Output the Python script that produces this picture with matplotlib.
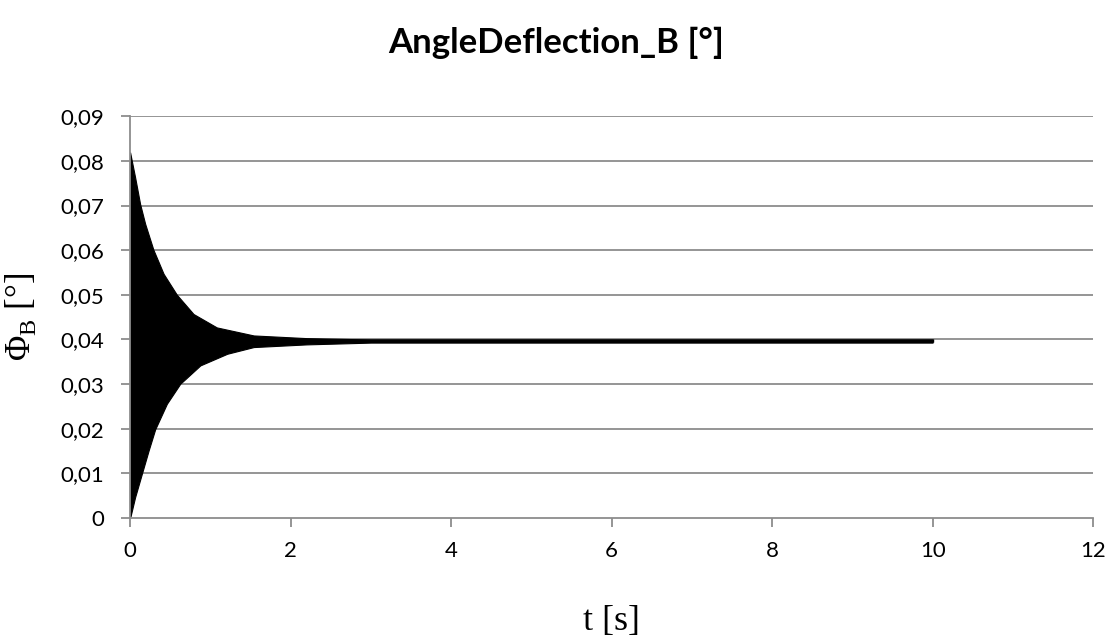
import matplotlib.pyplot as plt
import numpy as np

# envelope of the oscillation
t_up = [0.0, 0.0625, 0.125, 0.1875, 0.29, 0.417, 0.583, 0.79, 1.08, 1.54, 2.2, 3.0, 10.0]
upper = [0.0819, 0.0763, 0.0703, 0.0659, 0.0601, 0.0547, 0.0500, 0.0457, 0.0427, 0.0409, 0.0403, 0.0400, 0.0400]
t_lo = [0.0, 0.0625, 0.146, 0.23, 0.3125, 0.458, 0.625, 0.875, 1.21, 1.54, 2.2, 3.0, 10.0]
lower = [0.0, 0.0047, 0.0099, 0.0151, 0.0199, 0.0256, 0.0301, 0.0342, 0.0368, 0.0383, 0.0389, 0.0393, 0.0393]

xticks = [0, 2, 4, 6, 8, 10, 12]
yticks = [0, 0.01, 0.02, 0.03, 0.04, 0.05, 0.06, 0.07, 0.08, 0.09]
ytick_labels = ['0', '0,01', '0,02', '0,03', '0,04', '0,05', '0,06', '0,07', '0,08', '0,09']

plt.rcParams['font.family'] = ['Lato', 'DejaVu Sans']

fig = plt.figure(figsize=(11.12, 6.42), dpi=100)
ax = fig.add_axes([0.117, 0.193, 0.866, 0.626])

# band between both envelopes on a common time grid
t_common = np.union1d(t_up, t_lo)
up_i = np.interp(t_common, t_up, upper)
lo_i = np.interp(t_common, t_lo, lower)
ax.fill_between(t_common, lo_i, up_i, color='black', linewidth=0.8, edgecolor='black')
ax.plot(t_common, (up_i + lo_i) / 2, color='black', linewidth=2.3)

ax.set_xlim(0, 12)
ax.set_ylim(0, 0.09)
ax.set_xticks(xticks)
ax.set_xticklabels([str(v) for v in xticks], fontsize=16)
ax.set_yticks(yticks)
ax.set_yticklabels(ytick_labels, fontsize=16)

for y in yticks[1:]:
    ax.axhline(y, color='#8c8c8c', linewidth=1.3, zorder=0)

for s in ['top', 'right']:
    ax.spines[s].set_visible(False)
for s in ['left', 'bottom']:
    ax.spines[s].set_color('#8c8c8c')
    ax.spines[s].set_linewidth(1.3)
ax.tick_params(axis='both', colors='#8c8c8c', labelcolor='black', length=6.5, width=1.3)
ax.tick_params(axis='x', pad=10)
ax.tick_params(axis='y', pad=12)

fig.suptitle('AngleDeflection_B [°]', fontsize=25, fontweight='bold', y=0.958)
ax.set_xlabel('t [s]', fontsize=26, family='Liberation Serif')
ax.set_ylabel('Φ$_\\mathregular{B}$ [°]', fontsize=25, family='Liberation Serif')
ax.xaxis.set_label_coords(0.5, -0.215)
ax.yaxis.set_label_coords(-0.096, 0.5)

fig.savefig('out.png', dpi=100)
